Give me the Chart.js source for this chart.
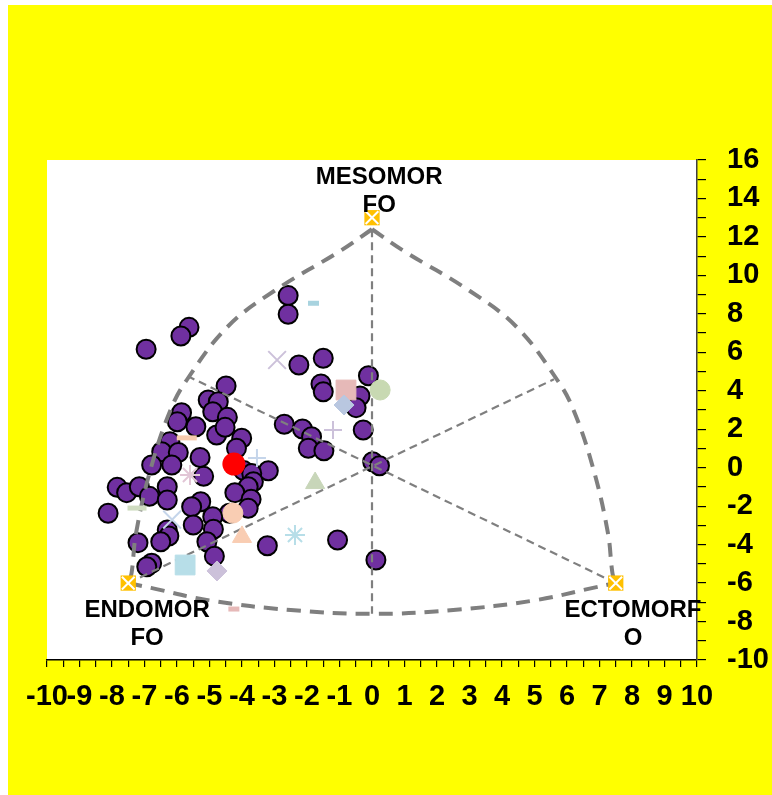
<!DOCTYPE html>
<html lang="es">
<head>
<meta charset="UTF-8">
<title>Somatocarta</title>
<script src="https://cdn.jsdelivr.net/npm/chart.js"></script>
<style>
  html, body { margin: 0; padding: 0; background: #fff; }
</style>
</head>
<body>
<canvas id="somatocarta" width="772" height="795"></canvas>
<script>
// sujetos (puntos morados)
const sujetosX = [-2.58, -2.58, -5.63, -5.88, -6.95, -2.25, -1.5, -1.57, -1.5, -0.11,
  -0.37, -0.49, -0.27, -2.7, -2.14, -1.86, -1.96, -1.48, 0.02, 0.23,
  -4.49, -5.04, -4.73, -4.9, -4.45, -5.86, -5.99, -5.42, -4.78, -4.52,
  -4.01, -4.17, -6.22, -6.47, -5.96, -5.29, -6.78, -6.16, -5.18, -3.19,
  -3.95, -3.7, -3.65, -3.81, -4.22, -3.72, -3.81, -4.39, -7.84, -7.55,
  -7.16, -6.85, -6.3, -6.3, -8.12, -5.27, -5.55, -4.9, -5.5, -4.88,
  -6.3, -6.25, -6.5, -7.2, -5.08, -4.85, -6.78, -6.93, -3.22, -1.06, 0.12];
const sujetosY = [8.95, 7.98, 7.3, 6.85, 6.16, 5.34, 5.69, 4.35, 3.95, 4.78,
  3.73, 3.12, 1.96, 2.26, 2.01, 1.61, 1.01, 0.88, 0.31, 0.1,
  4.25, 3.52, 3.43, 2.91, 2.62, 2.86, 2.39, 2.13, 1.7, 2.1,
  1.53, 1.01, 1.35, 0.83, 0.79, 0.53, 0.14, 0.14, -0.45, -0.16,
  -0.15, -0.3, -0.73, -0.99, -1.3, -1.64, -2.11, -2.37, -1.02, -1.3,
  -0.99, -1.49, -0.99, -1.68, -2.37, -1.77, -2.03, -2.55, -2.98, -3.2,
  -3.24, -3.55, -3.85, -3.9, -3.85, -4.6, -4.97, -5.15, -4.06, -3.76, -4.8];

// media del grupo (punto rojo)
const mediaX = [-4.25];
const mediaY = [0.19];

// otras referencias (marcadores claros)
const refX = [-1.8, -2.92, -0.8, 0.25, -0.86, -1.2, -3.54, -5.7, -5.6, -7.23,
  -6.15, -1.75, -4.28, -4.0, -2.37, -5.75, -4.77, -4.25];
const refY = [8.55, 5.6, 4.04, 4.04, 3.26, 1.96, 0.5, 1.55, -0.38, -2.1,
  -2.7, -0.8, -2.36, -3.6, -3.5, -5.06, -5.37, -7.35];
const refStyle = ['line', 'crossRot', 'rect', 'circle', 'rectRot', 'cross', 'cross', 'line', 'star', 'line',
  'crossRot', 'triangle', 'circle', 'triangle', 'star', 'rect', 'rectRot', 'line'];
const refColor = ['#a8d3df', '#ccc1da', '#e6b9b8', '#c8d9b2', '#b9c7e0', '#ccc1da', '#c5d5ea', '#f8cbad', '#e2c6d6', '#cfdcc0',
  '#c5d5ea', '#c8d6b9', '#f9cdb3', '#f9cdb3', '#b7dee8', '#b7dee8', '#ccc1da', '#e6b9b8'];
const refRadius = [5.5, 12.5, 14, 10, 10, 9, 9, 10, 10, 9.5, 12.5, 11, 10, 11, 10, 14, 10, 5.5];
const refBorder = [5, 2, 1, 1, 1, 2, 2, 5, 2, 5, 2, 1, 1, 1, 2, 1, 1, 5];

// vértices de la somatocarta
const verticeX = [0, -7.5, 7.5];
const verticeY = [13, -6, -6];
const verticeTexto = [['MESOMOR', 'FO'], ['ENDOMOR', 'FO'], ['ECTOMORF', 'O']];
const textoX = [0.22, -6.92, 8.03];
const textoY = [15.1, -7.43, -7.4];

// arcos
const arcoIzqX = [0, -0.95, -3.0, -4.46, -5.7, -6.2, -6.8, -7.26, -7.4, -7.5];
const arcoIzqY = [12.4, 11.3, 9.2, 7.3, 4.56, 3.0, 0, -3.4, -5.5, -6];
const arcoDerX = [0, 0.95, 3.0, 4.46, 5.7, 6.2, 6.8, 7.26, 7.4, 7.5];
const arcoDerY = [12.4, 11.3, 9.2, 7.3, 4.56, 3.0, 0, -3.4, -5.5, -6];
const arcoInfX = [-7.5, -6.8, -5, -2.5, 0, 2.5, 5, 6.8, 7.5];
const arcoInfY = [-6, -6.25, -6.9, -7.4, -7.6, -7.4, -6.9, -6.25, -6];

// ejes internos
const ejeMesoX = [0, 0], ejeMesoY = [12.4, -7.6];
const ejeEndoX = [-7.5, 5.6], ejeEndoY = [-6, 4.6];
const ejeEctoX = [7.5, -5.6], ejeEctoY = [-6, 4.7];

const pts = (xs, ys) => xs.map((v, i) => ({ x: v, y: ys[i] }));

const lineaFina = (xs, ys) => ({
  data: pts(xs, ys), showLine: true, pointRadius: 0, borderColor: '#7f7f7f',
  borderWidth: 2.2, borderDash: [8, 5], order: 4
});
const lineaGruesa = (xs, ys) => ({
  data: pts(xs, ys), showLine: true, pointRadius: 0, borderColor: '#7f7f7f',
  borderWidth: 4, borderDash: [14, 9], tension: 0.4, order: 5
});

const fondo = {
  id: 'fondo',
  beforeDraw(chart) {
    const { ctx, chartArea: a } = chart;
    ctx.save();
    ctx.fillStyle = '#ffff00';
    ctx.fillRect(8, 5, chart.width - 8, chart.height - 5);
    ctx.fillStyle = '#ffffff';
    ctx.fillRect(a.left, a.top, a.right - a.left, a.bottom - a.top);
    ctx.restore();
  }
};

const rotulos = {
  id: 'rotulos',
  afterDatasetsDraw(chart) {
    const { ctx, scales: { x, y } } = chart;
    ctx.save();
    ctx.font = 'bold 24px "Liberation Sans", Arial, sans-serif';
    ctx.fillStyle = '#000';
    ctx.textAlign = 'center';
    ctx.textBaseline = 'middle';
    verticeTexto.forEach((lineas, i) => {
      const px = x.getPixelForValue(textoX[i]);
      const py = y.getPixelForValue(textoY[i]);
      lineas.forEach((t, j) => ctx.fillText(t, px, py + j * 28));
    });
    ctx.restore();
  }
};

const fuente = { family: '"Liberation Sans", Arial, sans-serif', size: 29, weight: 'bold' };

new Chart(document.getElementById('somatocarta'), {
  type: 'scatter',
  data: {
    datasets: [
      { data: pts(mediaX, mediaY), pointRadius: 11.5, pointBackgroundColor: '#ff0000',
        pointBorderWidth: 0, order: 0 },
      { data: pts(refX, refY), pointStyle: refStyle, pointRadius: refRadius,
        pointBackgroundColor: refColor, pointBorderColor: refColor,
        pointBorderWidth: refBorder, order: 1 },
      { data: pts(verticeX, verticeY), pointStyle: 'crossRot', pointRadius: 9,
        pointBorderColor: '#ffffff', pointBorderWidth: 2, order: 2 },
      { data: pts(verticeX, verticeY), pointStyle: 'rect', pointRadius: 10.8,
        pointBackgroundColor: '#ffc000', pointBorderWidth: 0, order: 3 },
      lineaFina(ejeMesoX, ejeMesoY),
      lineaFina(ejeEndoX, ejeEndoY),
      lineaFina(ejeEctoX, ejeEctoY),
      lineaGruesa(arcoIzqX, arcoIzqY),
      lineaGruesa(arcoDerX, arcoDerY),
      lineaGruesa(arcoInfX, arcoInfY),
      { data: pts(sujetosX, sujetosY), pointRadius: 9.5, pointBackgroundColor: '#7030a0',
        pointBorderColor: '#000000', pointBorderWidth: 2, order: 6 }
    ]
  },
  options: {
    responsive: false,
    animation: false,
    layout: { padding: { left: 47, top: 160, right: 0, bottom: 0 } },
    plugins: { legend: { display: false }, tooltip: { enabled: false } },
    scales: {
      x: {
        type: 'linear', position: 'bottom', min: -10, max: 10,
        afterFit: (s) => { s.height = 135; },
        border: { color: '#000', width: 1.5 },
        grid: { drawOnChartArea: false, tickLength: 7, color: '#000', lineWidth: 1.2 },
        ticks: {
          stepSize: 0.5, autoSkip: false, maxRotation: 0, padding: 13,
          color: '#000', font: fuente,
          callback: (v) => Number.isInteger(v) ? v : ''
        }
      },
      y: {
        type: 'linear', position: 'right', min: -10, max: 16,
        afterFit: (s) => { s.width = 75; },
        border: { color: '#404040', width: 1.5 },
        grid: { drawOnChartArea: false, tickLength: 9, color: '#000', lineWidth: 1.2 },
        ticks: {
          stepSize: 1, autoSkip: false, padding: 21,
          color: '#000', font: fuente,
          callback: (v) => v % 2 === 0 ? v : ''
        }
      }
    }
  },
  plugins: [fondo, rotulos]
});
</script>
</body>
</html>
